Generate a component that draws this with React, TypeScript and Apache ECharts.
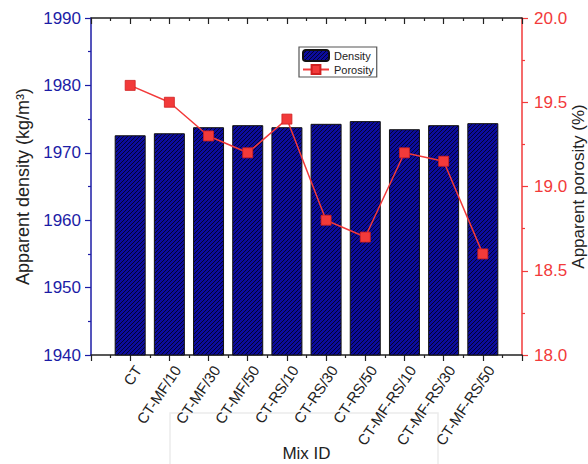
import React, { useEffect, useRef } from "react";
import * as echarts from "echarts";

const categories = [
  "CT",
  "CT-MF/10",
  "CT-MF/30",
  "CT-MF/50",
  "CT-RS/10",
  "CT-RS/30",
  "CT-RS/50",
  "CT-MF-RS/10",
  "CT-MF-RS/30",
  "CT-MF-RS/50",
];
const densityValues = [1972.6, 1972.9, 1973.8, 1974.1, 1973.8, 1974.3, 1974.7, 1973.5, 1974.1, 1974.4];
const porosityValues = [19.6, 19.5, 19.3, 19.2, 19.4, 18.8, 18.7, 19.2, 19.15, 18.6];
const densityTicks = [1940, 1990, 10];
const porosityTicks = [18, 20, 0.5];

const BLUE = "#1c1ca6";
const RED = "#f23a3a";
const FONT = "Liberation Sans, Arial, sans-serif";

function makeHatch(): HTMLCanvasElement {
  const s = 4;
  const c = document.createElement("canvas");
  c.width = s;
  c.height = s;
  const ctx = c.getContext("2d")!;
  ctx.fillStyle = "#0c0c9e";
  ctx.fillRect(0, 0, s, s);
  ctx.strokeStyle = "rgba(0,0,0,0.7)";
  ctx.lineWidth = 1;
  ctx.beginPath();
  ctx.moveTo(0, s);
  ctx.lineTo(s, 0);
  ctx.moveTo(-1, 1);
  ctx.lineTo(1, -1);
  ctx.moveTo(s - 1, s + 1);
  ctx.lineTo(s + 1, s - 1);
  ctx.stroke();
  return c;
}

export default function App() {
  const ref = useRef<HTMLDivElement>(null);
  useEffect(() => {
    if (!ref.current) return;
    const chart = echarts.init(ref.current, null, { renderer: "svg" });
    const nCat = categories.length + 1;
    const catLabel = (v: number) => {
      const i = Math.round(v) - 1;
      return i >= 0 && i < categories.length ? categories[i] : "";
    };
    const hatch = makeHatch();
    chart.setOption({
      animation: false,
      textStyle: { fontFamily: FONT },
      grid: [
        { left: 91, right: 66, top: 18, bottom: 109, outerBoundsMode: "none" },
        { left: 99, right: 58, top: 18, bottom: 109, outerBoundsMode: "none" },
      ],
      graphic: [
        {
          type: "rect",
          shape: { x: 170, y: 413, width: 268, height: 60 },
          style: { fill: "none", stroke: "#ececec", lineWidth: 1.5 },
          z: -1,
        },
      ],
      legend: {
        left: 299,
        top: 47,
        orient: "vertical",
        borderColor: "#555",
        borderWidth: 1.2,
        padding: [2, 3, 2, 3],
        itemGap: 2,
        itemWidth: 26,
        itemHeight: 11,
        textStyle: { fontSize: 11, color: "#222", fontFamily: FONT },
        data: ["Density", "Porosity"],
      },
      xAxis: [
        {
          type: "value",
          gridIndex: 0,
          min: 0,
          max: nCat,
          interval: 1,
          position: "bottom",
          splitLine: { show: false },
          axisLine: { onZero: false, lineStyle: { color: "#222", width: 1.5 } },
          axisTick: { length: 6, lineStyle: { color: "#222", width: 1.2 } },
          minorTick: { show: true, splitNumber: 2, length: 3, lineStyle: { color: "#222", width: 1.2 } },
          axisLabel: { show: false },
          name: "Mix ID",
          nameLocation: "middle",
          nameGap: 90,
          nameMoveOverlap: false,
          nameTextStyle: { fontSize: 17, color: "#222" },
        },
        {
          type: "value",
          gridIndex: 0,
          min: 0,
          max: nCat,
          interval: 1,
          position: "top",
          splitLine: { show: false },
          axisLine: { onZero: false, lineStyle: { color: "#222", width: 1.5 } },
          axisTick: { inside: true, length: 6, lineStyle: { color: "#222", width: 1.2 } },
          minorTick: { show: true, splitNumber: 2, length: 3, lineStyle: { color: "#222", width: 1.2 } },
          axisLabel: { show: false },
        },
        {
          type: "value",
          gridIndex: 1,
          min: 0,
          max: nCat,
          interval: 1,
          position: "bottom",
          splitLine: { show: false },
          axisLine: { show: false, onZero: false },
          axisTick: { show: false },
          axisLabel: {
            rotate: 56,
            fontSize: 15,
            color: "#222",
            margin: 12,
            formatter: catLabel,
            showMinLabel: false,
            showMaxLabel: false,
          },
        },
      ],
      yAxis: [
        {
          type: "value",
          gridIndex: 0,
          min: densityTicks[0],
          max: densityTicks[1],
          interval: densityTicks[2],
          position: "left",
          splitLine: { show: false },
          axisLine: { show: true, onZero: false, lineStyle: { color: BLUE, width: 1.5 } },
          axisTick: { show: true, length: 6, lineStyle: { color: BLUE, width: 1.2 } },
          minorTick: { show: true, splitNumber: 2, length: 3, lineStyle: { color: BLUE, width: 1.2 } },
          axisLabel: { fontSize: 17, color: BLUE, margin: 10, formatter: (v: number) => String(v) },
          name: "Apparent density (kg/m³)",
          nameLocation: "middle",
          nameGap: 59,
          nameMoveOverlap: false,
          nameTextStyle: { fontSize: 18, color: "#222" },
        },
        {
          type: "value",
          gridIndex: 0,
          min: porosityTicks[0],
          max: porosityTicks[1],
          interval: porosityTicks[2],
          position: "right",
          splitLine: { show: false },
          axisLine: { show: true, onZero: false, lineStyle: { color: RED, width: 1.5 } },
          axisTick: { show: true, length: 6, lineStyle: { color: RED, width: 1.2 } },
          minorTick: { show: true, splitNumber: 2, length: 3, lineStyle: { color: RED, width: 1.2 } },
          axisLabel: { fontSize: 17, color: RED, margin: 12, formatter: (v: number) => v.toFixed(1) },
          name: "Apparent porosity (%)",
          nameLocation: "middle",
          nameGap: 48,
          nameMoveOverlap: false,
          nameTextStyle: { fontSize: 17, color: "#222" },
        },
        {
          type: "value",
          gridIndex: 1,
          show: false,
          min: 0,
          max: 1,
          splitLine: { show: false },
        },
      ],
      series: [
        {
          name: "Density",
          type: "bar",
          xAxisIndex: 0,
          yAxisIndex: 0,
          data: densityValues.map((v, i) => [i + 1, v]),
          barWidth: 31,
          itemStyle: {
            color: { image: hatch, repeat: "repeat" },
            borderColor: "#111",
            borderWidth: 1,
          },
        },
        {
          name: "Porosity",
          type: "line",
          xAxisIndex: 0,
          yAxisIndex: 1,
          data: porosityValues.map((v, i) => [i + 1, v]),
          symbol: "rect",
          symbolSize: 10,
          color: RED,
          lineStyle: { color: RED, width: 1.5 },
          itemStyle: { color: RED, borderColor: "#d02020", borderWidth: 0.8 },
        },
      ],
    });
    return () => chart.dispose();
  }, []);
  return <div ref={ref} style={{ width: 588, height: 464, position: "absolute", left: 0, top: 0 }} />;
}
